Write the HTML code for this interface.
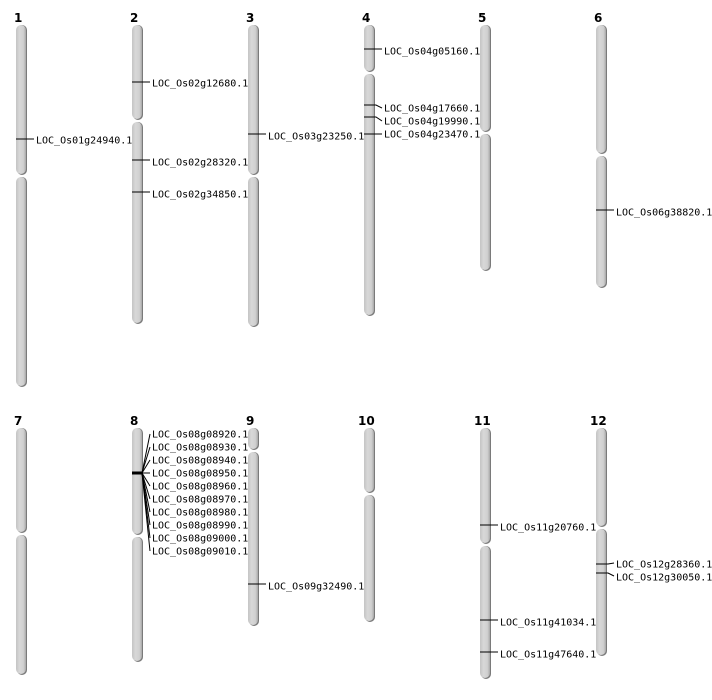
<!DOCTYPE html>
<html><head><style>
body{margin:0;background:#fff;}
svg{display:block;}
text{font-family:"DejaVu Sans Mono","Liberation Mono",monospace;font-size:10px;fill:#000;}
.n{font-family:"DejaVu Sans","Liberation Sans",sans-serif;font-weight:bold;font-size:12px;}
.s{fill:#7a7a7a;}
.c{fill:url(#g);}
line,polyline{stroke:#000;stroke-width:1;fill:none;}
</style></head><body>
<svg width="712" height="700" viewBox="0 0 712 700">
<defs><linearGradient id="g" x1="0" x2="1" y1="0" y2="0">
<stop offset="0" stop-color="#c4c4c4"/><stop offset="0.35" stop-color="#d8d8d8"/><stop offset="0.75" stop-color="#d0d0d0"/><stop offset="1" stop-color="#a8a8a8"/></linearGradient></defs>
<g id="chroms"></g>
<text class="n" x="14" y="22">1</text><text class="n" x="130" y="22">2</text><text class="n" x="246" y="22">3</text><text class="n" x="362" y="22">4</text><text class="n" x="478" y="22">5</text><text class="n" x="594" y="22">6</text>
<text class="n" x="14" y="425">7</text><text class="n" x="130" y="425">8</text><text class="n" x="246" y="425">9</text><text class="n" x="358" y="425">10</text><text class="n" x="474" y="425">11</text><text class="n" x="590" y="425">12</text>
<!-- chrom shapes -->
<g>
<!-- x, top, cen, bottom -->
<rect class="s" x="17" y="25" width="10" height="150" rx="5"/><rect class="c" x="16" y="25" width="10" height="149" rx="5"/>
<rect class="s" x="17" y="177" width="10" height="210" rx="5"/><rect class="c" x="16" y="177" width="10" height="209" rx="5"/>

<rect class="s" x="133" y="25" width="10" height="95" rx="5"/><rect class="c" x="132" y="25" width="10" height="94" rx="5"/>
<rect class="s" x="133" y="122" width="10" height="202" rx="5"/><rect class="c" x="132" y="122" width="10" height="201" rx="5"/>

<rect class="s" x="249" y="25" width="10" height="150" rx="5"/><rect class="c" x="248" y="25" width="10" height="149" rx="5"/>
<rect class="s" x="249" y="177" width="10" height="150" rx="5"/><rect class="c" x="248" y="177" width="10" height="149" rx="5"/>

<rect class="s" x="365" y="25" width="10" height="47" rx="5"/><rect class="c" x="364" y="25" width="10" height="46" rx="5"/>
<rect class="s" x="365" y="74" width="10" height="242" rx="5"/><rect class="c" x="364" y="74" width="10" height="241" rx="5"/>

<rect class="s" x="481" y="25" width="10" height="107" rx="5"/><rect class="c" x="480" y="25" width="10" height="106" rx="5"/>
<rect class="s" x="481" y="134" width="10" height="137" rx="5"/><rect class="c" x="480" y="134" width="10" height="136" rx="5"/>

<rect class="s" x="597" y="25" width="10" height="129" rx="5"/><rect class="c" x="596" y="25" width="10" height="128" rx="5"/>
<rect class="s" x="597" y="156" width="10" height="132" rx="5"/><rect class="c" x="596" y="156" width="10" height="131" rx="5"/>

<rect class="s" x="17" y="428" width="10" height="105" rx="5"/><rect class="c" x="16" y="428" width="10" height="104" rx="5"/>
<rect class="s" x="17" y="535" width="10" height="140" rx="5"/><rect class="c" x="16" y="535" width="10" height="139" rx="5"/>

<rect class="s" x="133" y="428" width="10" height="107" rx="5"/><rect class="c" x="132" y="428" width="10" height="106" rx="5"/>
<rect class="s" x="133" y="537" width="10" height="125" rx="5"/><rect class="c" x="132" y="537" width="10" height="124" rx="5"/>

<rect class="s" x="249" y="428" width="10" height="22" rx="5"/><rect class="c" x="248" y="428" width="10" height="21" rx="5"/>
<rect class="s" x="249" y="452" width="10" height="174" rx="5"/><rect class="c" x="248" y="452" width="10" height="173" rx="5"/>

<rect class="s" x="365" y="428" width="10" height="65" rx="5"/><rect class="c" x="364" y="428" width="10" height="64" rx="5"/>
<rect class="s" x="365" y="495" width="10" height="127" rx="5"/><rect class="c" x="364" y="495" width="10" height="126" rx="5"/>

<rect class="s" x="481" y="428" width="10" height="116" rx="5"/><rect class="c" x="480" y="428" width="10" height="115" rx="5"/>
<rect class="s" x="481" y="546" width="10" height="133" rx="5"/><rect class="c" x="480" y="546" width="10" height="132" rx="5"/>

<rect class="s" x="597" y="428" width="10" height="99" rx="5"/><rect class="c" x="596" y="428" width="10" height="98" rx="5"/>
<rect class="s" x="597" y="529" width="10" height="127" rx="5"/><rect class="c" x="596" y="529" width="10" height="126" rx="5"/>
</g>
<!-- markers -->
<line x1="16" y1="139" x2="34" y2="139"/><text x="36" y="143.5">LOC_Os01g24940.1</text>
<line x1="132" y1="82" x2="150" y2="82"/><text x="152" y="86.5">LOC_Os02g12680.1</text>
<line x1="132" y1="160" x2="150" y2="160"/><text x="152" y="165.5">LOC_Os02g28320.1</text>
<line x1="132" y1="192" x2="150" y2="192"/><text x="152" y="197.5">LOC_Os02g34850.1</text>
<line x1="248" y1="134" x2="266" y2="134"/><text x="268" y="139.5">LOC_Os03g23250.1</text>
<line x1="364" y1="49" x2="382" y2="49"/><text x="384" y="54.5">LOC_Os04g05160.1</text>
<polyline points="364,105 376,105 382,108"/><text x="384" y="111.5">LOC_Os04g17660.1</text>
<polyline points="364,117 376,117 382,121"/><text x="384" y="124.5">LOC_Os04g19990.1</text>
<polyline points="364,134 376,134 382,134"/><text x="384" y="137.5">LOC_Os04g23470.1</text>
<line x1="596" y1="210" x2="614" y2="210"/><text x="616" y="215.5">LOC_Os06g38820.1</text>
<line x1="132" y1="473" x2="142" y2="473" style="stroke-width:3"/>
<g>
<line x1="142" y1="473" x2="150" y2="434"/><text x="152" y="437.5">LOC_Os08g08920.1</text>
<line x1="142" y1="473" x2="150" y2="447"/><text x="152" y="450.5">LOC_Os08g08930.1</text>
<line x1="142" y1="473" x2="150" y2="460"/><text x="152" y="463.5">LOC_Os08g08940.1</text>
<line x1="142" y1="473" x2="150" y2="473"/><text x="152" y="476.5">LOC_Os08g08950.1</text>
<line x1="142" y1="473" x2="150" y2="486"/><text x="152" y="489.5">LOC_Os08g08960.1</text>
<line x1="142" y1="473" x2="150" y2="499"/><text x="152" y="502.5">LOC_Os08g08970.1</text>
<line x1="142" y1="473" x2="150" y2="512"/><text x="152" y="515.5">LOC_Os08g08980.1</text>
<line x1="142" y1="473" x2="150" y2="525"/><text x="152" y="528.5">LOC_Os08g08990.1</text>
<line x1="142" y1="473" x2="150" y2="538"/><text x="152" y="541.5">LOC_Os08g09000.1</text>
<line x1="142" y1="473" x2="150" y2="551"/><text x="152" y="554.5">LOC_Os08g09010.1</text>
</g>
<line x1="248" y1="584" x2="266" y2="584"/><text x="268" y="589.5">LOC_Os09g32490.1</text>
<line x1="480" y1="525" x2="498" y2="525"/><text x="500" y="530.5">LOC_Os11g20760.1</text>
<line x1="480" y1="620" x2="498" y2="620"/><text x="500" y="625.5">LOC_Os11g41034.1</text>
<line x1="480" y1="652" x2="498" y2="652"/><text x="500" y="657.5">LOC_Os11g47640.1</text>
<polyline points="596,564 608,564 614,563"/><text x="616" y="567.5">LOC_Os12g28360.1</text>
<polyline points="596,573 608,573 614,576"/><text x="616" y="580.5">LOC_Os12g30050.1</text>
</svg>
</body></html>
